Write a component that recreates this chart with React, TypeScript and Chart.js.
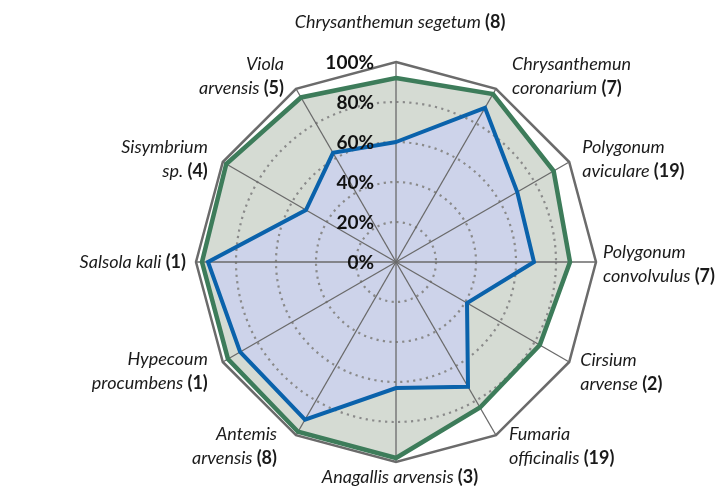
import React, { useEffect, useRef } from "react";
import { Chart, registerables } from "chart.js";

Chart.register(...registerables);

const speciesNames: string[][] = [
  ["Chrysanthemun segetum"],
  ["Chrysanthemun", "coronarium"],
  ["Polygonum", "aviculare"],
  ["Polygonum", "convolvulus"],
  ["Cirsium", "arvense"],
  ["Fumaria", "officinalis"],
  ["Anagallis arvensis"],
  ["Antemis", "arvensis"],
  ["Hypecoum", "procumbens"],
  ["Salsola kali"],
  ["Sisymbrium", "sp."],
  ["Viola", "arvensis"],
];
const speciesCounts = [8, 7, 19, 7, 2, 19, 3, 8, 1, 1, 4, 5];
const outerValues = [92, 97, 91, 87, 83, 84, 98, 98, 97, 97, 98, 95];
const innerValues = [60, 89, 70, 69, 41, 72, 63, 91, 90, 94, 52, 63];
const maxValues = [100, 100, 100, 100, 100, 100, 100, 100, 100, 100, 100, 100];
const tickValues = [0, 20, 40, 60, 80, 100];

// label layout relative to each axis' outer vertex
const labelLayout: { align: "left" | "right" | "center"; dx: number; dy: number }[] = [
  { align: "center", dx: 4, dy: -34 },
  { align: "left", dx: 16, dy: -19 },
  { align: "left", dx: 13, dy: -9 },
  { align: "left", dx: 7, dy: -4 },
  { align: "left", dx: 11, dy: 4 },
  { align: "left", dx: 13, dy: 5 },
  { align: "center", dx: 4, dy: 21 },
  { align: "right", dx: -19, dy: 5 },
  { align: "right", dx: -15, dy: 3 },
  { align: "right", dx: -10, dy: 6 },
  { align: "right", dx: -15, dy: -9 },
  { align: "right", dx: -12, dy: -19 },
];

const FONT_FAMILY = "Lato, 'Noto Sans', sans-serif";
const LABEL_SIZE = 18;
const LINE_HEIGHT = 24;

const textPlugin = {
  id: "customText",
  afterDraw(chart: any) {
    const scale = chart.scales.r;
    const ctx: CanvasRenderingContext2D = chart.ctx;
    const outer = scale.getDistanceFromCenterForValue(100);
    ctx.save();
    ctx.fillStyle = "#1a1a1a";
    speciesNames.forEach((lines, i) => {
      const p = scale.getPointPosition(i, outer);
      const L = labelLayout[i];
      lines.forEach((line, j) => {
        const isLast = j === lines.length - 1;
        const italicText = isLast ? line + " " : line;
        const boldText = isLast ? `(${speciesCounts[i]})` : "";
        ctx.font = `italic 400 ${LABEL_SIZE}px ${FONT_FAMILY}`;
        const wI = ctx.measureText(italicText).width;
        ctx.font = `700 ${LABEL_SIZE}px ${FONT_FAMILY}`;
        const wB = boldText ? ctx.measureText(boldText).width : 0;
        const total = wI + wB;
        const ax = p.x + L.dx;
        const x0 = L.align === "left" ? ax : L.align === "right" ? ax - total : ax - total / 2;
        const y = p.y + L.dy + j * LINE_HEIGHT;
        ctx.textAlign = "left";
        ctx.textBaseline = "alphabetic";
        ctx.font = `italic 400 ${LABEL_SIZE}px ${FONT_FAMILY}`;
        ctx.fillText(italicText, x0, y);
        if (boldText) {
          ctx.font = `700 ${LABEL_SIZE}px ${FONT_FAMILY}`;
          ctx.fillText(boldText, x0 + wI, y);
        }
      });
    });
    ctx.font = `700 19px ${FONT_FAMILY}`;
    ctx.fillStyle = "#111111";
    ctx.textAlign = "right";
    ctx.textBaseline = "middle";
    tickValues.forEach((v) => {
      const r = scale.getDistanceFromCenterForValue(v);
      ctx.fillText(`${v}%`, scale.xCenter - 22, scale.yCenter - r + 1);
    });
    ctx.restore();
  },
};

export default function App() {
  const ref = useRef<HTMLCanvasElement | null>(null);
  useEffect(() => {
    if (!ref.current) return;
    const chart = new Chart(ref.current, {
      type: "radar",
      data: {
        labels: speciesNames.map((l) => l.join(" ")),
        datasets: [
          {
            data: innerValues,
            borderColor: "#0a62ab",
            backgroundColor: "#cdd3ea",
            borderWidth: 4,
            fill: true,
            pointRadius: 0,
          },
          {
            data: outerValues,
            borderColor: "#3d7c5a",
            backgroundColor: "#d5dbd3",
            borderWidth: 4.5,
            fill: true,
            pointRadius: 0,
          },
          {
            data: maxValues,
            borderColor: "#6b6b6b",
            backgroundColor: "rgba(0,0,0,0)",
            borderWidth: 2.5,
            fill: false,
            pointRadius: 0,
          },
        ],
      },
      options: {
        responsive: false,
        animation: false,
        events: [],
        plugins: {
          legend: { display: false },
          tooltip: { enabled: false },
          filler: { drawTime: "beforeDraw" },
        } as any,
        elements: { line: { tension: 0, borderJoinStyle: "miter" } },
        scales: {
          r: {
            min: 0,
            max: 100,
            ticks: { display: false, stepSize: 20 },
            pointLabels: { display: false },
            grid: {
              circular: true,
              color: (c: any) =>
                c.tick && c.tick.value > 0 && c.tick.value < 100 ? "#8a8a8a" : "rgba(0,0,0,0)",
              lineWidth: 2.2,
            },
            border: { dash: [2.2, 4.3] },
            angleLines: { color: "#6a6a6a", lineWidth: 1.3 },
            afterFit: (s: any) => {
              s.drawingArea = 200;
              s.xCenter = 396;
              s.yCenter = 262;
            },
          } as any,
        },
      },
      plugins: [textPlugin],
    });
    return () => chart.destroy();
  }, []);
  return (
    <div style={{ position: "absolute", left: 0, top: 0, width: 722, height: 488, background: "#fff" }}>
      <canvas ref={ref} width={722} height={488} style={{ display: "block" }} />
    </div>
  );
}
